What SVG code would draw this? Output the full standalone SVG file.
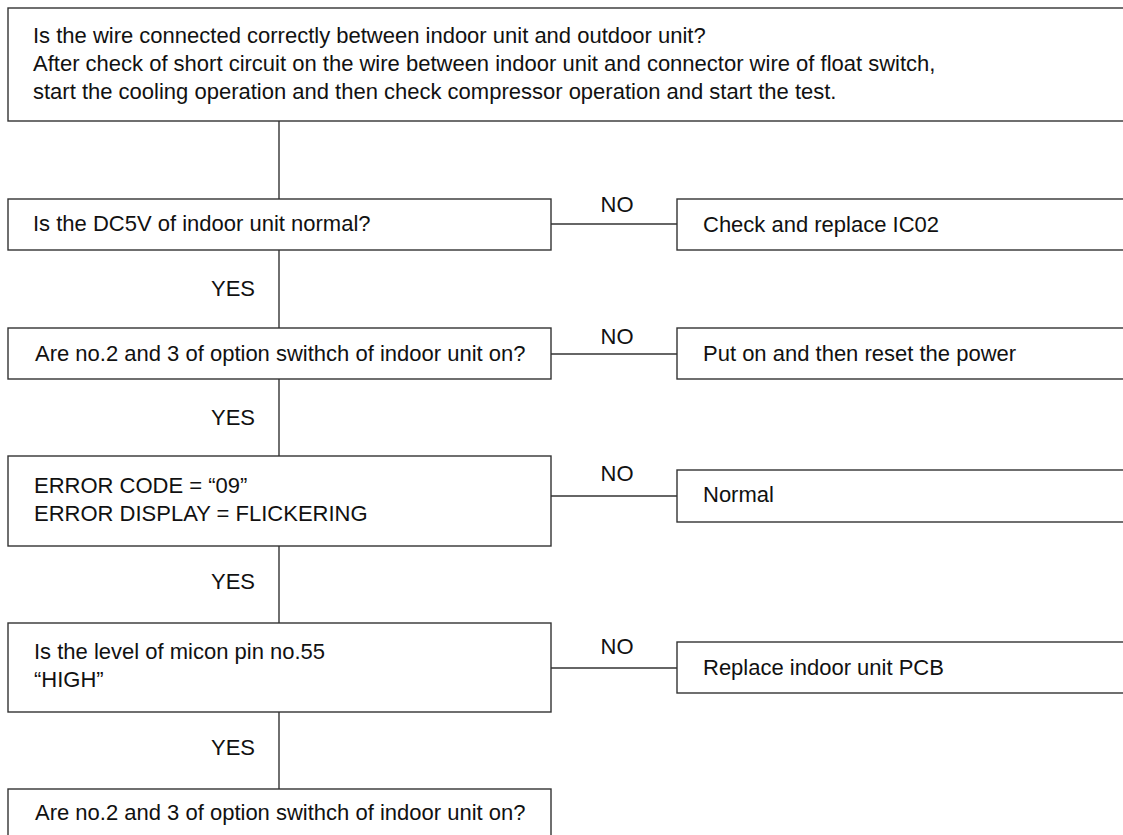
<svg xmlns="http://www.w3.org/2000/svg" width="1123" height="835" viewBox="0 0 1123 835">
<style>
.box{fill:#fff;stroke:#333;stroke-width:1.4}
.ln{stroke:#333;stroke-width:1.4;fill:none}
text{font-family:"Liberation Sans",Arial,sans-serif;font-size:22px;fill:#111}
.c{text-anchor:middle}
</style>
<rect width="1123" height="835" fill="#fff"/>
<g id="connectors">
<line class="ln" x1="279" y1="121" x2="279" y2="199"/>
<line class="ln" x1="279" y1="250" x2="279" y2="328"/>
<line class="ln" x1="279" y1="379" x2="279" y2="456"/>
<line class="ln" x1="279" y1="546" x2="279" y2="623"/>
<line class="ln" x1="279" y1="712" x2="279" y2="789"/>
<line class="ln" x1="551" y1="224" x2="677" y2="224"/>
<line class="ln" x1="551" y1="354" x2="677" y2="354"/>
<line class="ln" x1="551" y1="496" x2="677" y2="496"/>
<line class="ln" x1="551" y1="668" x2="677" y2="668"/>
<text class="c" x="233" y="296">YES</text>
<text class="c" x="233" y="425">YES</text>
<text class="c" x="233" y="589">YES</text>
<text class="c" x="233" y="755">YES</text>
<text class="c" x="617" y="212">NO</text>
<text class="c" x="617" y="344">NO</text>
<text class="c" x="617" y="481">NO</text>
<text class="c" x="617" y="654">NO</text>
</g>
<g id="start">
<rect class="box" x="8" y="8" width="1130" height="113"/>
<text x="33" y="43">Is the wire connected correctly between indoor unit and outdoor unit?</text>
<text x="33" y="71">After check of short circuit on the wire between indoor unit and connector wire of float switch,</text>
<text x="33" y="99">start the cooling operation and then check compressor operation and start the test.</text>
</g>
<g id="q1">
<rect class="box" x="8" y="199" width="543" height="51"/>
<text x="33" y="231">Is the DC5V of indoor unit normal?</text>
</g>
<g id="a1">
<rect class="box" x="677" y="199" width="460" height="51"/>
<text x="703" y="232">Check and replace IC02</text>
</g>
<g id="q2">
<rect class="box" x="8" y="328" width="543" height="51"/>
<text x="35" y="361">Are no.2 and 3 of option swithch of indoor unit on?</text>
</g>
<g id="a2">
<rect class="box" x="677" y="328" width="460" height="51"/>
<text x="703" y="361">Put on and then reset the power</text>
</g>
<g id="q3">
<rect class="box" x="8" y="456" width="543" height="90"/>
<text x="34" y="493">ERROR CODE = “09”</text>
<text x="34" y="521">ERROR DISPLAY = FLICKERING</text>
</g>
<g id="a3">
<rect class="box" x="677" y="470" width="460" height="52"/>
<text x="703" y="502">Normal</text>
</g>
<g id="q4">
<rect class="box" x="8" y="623" width="543" height="89"/>
<text x="34" y="659">Is the level of micon pin no.55</text>
<text x="34" y="687">“HIGH”</text>
</g>
<g id="a4">
<rect class="box" x="677" y="642" width="460" height="51"/>
<text x="703" y="675">Replace indoor unit PCB</text>
</g>
<g id="q5">
<rect class="box" x="8" y="789" width="543" height="60"/>
<text x="35" y="820">Are no.2 and 3 of option swithch of indoor unit on?</text>
</g>
</svg>
